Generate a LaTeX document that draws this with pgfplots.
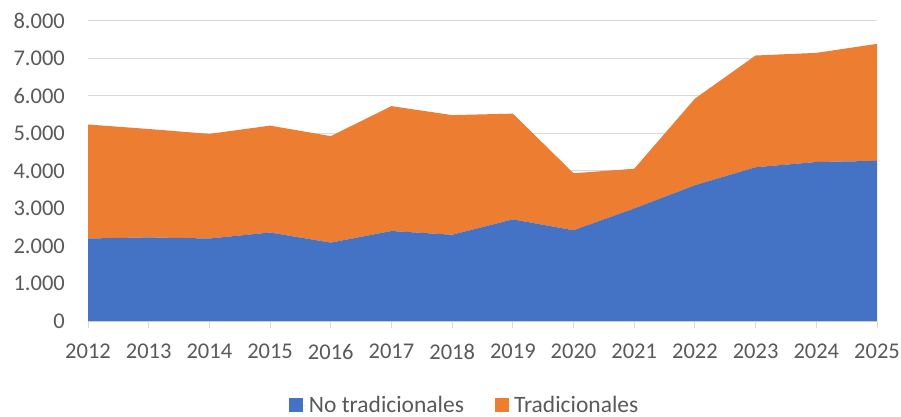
\documentclass[border=0pt]{standalone}
\usepackage{pgfplots}
\pgfplotsset{compat=1.18}
\usepackage{fontspec}
\setmainfont{Carlito}
\definecolor{cblue}{HTML}{4472C4}
\definecolor{corange}{HTML}{ED7D31}
\definecolor{cgrid}{HTML}{D9D9D9}
\definecolor{ctext}{HTML}{595959}
\begin{document}
\begin{tikzpicture}
\begin{axis}[
  scale only axis,
  width=789pt, height=300pt,
  xmin=2012, xmax=2025, ymin=0, ymax=8000,
  enlarge x limits=false,
  stack plots=y,
  xtick={2012,2013,2014,2015,2016,2017,2018,2019,2020,2021,2022,2023,2024,2025},
  ytick={0,1000,2000,3000,4000,5000,6000,7000,8000},
  scaled ticks=false,
  axis x line*=bottom,
  axis y line*=left,
  x axis line style={draw=cgrid, line width=1pt, -},
  y axis line style={draw=none},
  ymajorgrids,
  grid style={draw=cgrid, line width=1pt},
  tick align=outside,
  major tick length=7pt,
  xtick style={draw=cgrid, line width=1pt},
  ytick style={draw=none},
  /pgf/number format/assume math mode=true,
  xticklabel style={font=\fontsize{22.5}{26}\selectfont, text=ctext, inner sep=0pt, anchor=north, yshift=-16pt, /pgf/number format/1000 sep={}},
  yticklabel style={font=\fontsize{22.5}{26}\selectfont, text=ctext, inner sep=0pt, anchor=east, xshift=-16pt, /pgf/number format/1000 sep={.}},
  legend columns=2,
  legend style={at={(0.478,-0.28)}, anchor=center, draw=none, fill=none,
    font=\fontsize{23.5}{27}\selectfont, text=ctext,
    nodes={inner sep=2.5pt},
    /tikz/every even column/.append style={column sep=28pt}},
  legend cell align=left,
  legend image code/.code={\fill[#1] (0pt,-7pt) rectangle (14pt,7pt); \path (0pt,0pt) -- (17pt,0pt);},
]
\addplot[fill=cblue, draw=none] coordinates {
(2012,2200) (2013,2230) (2014,2200) (2015,2360) (2016,2090) (2017,2400) (2018,2300)
(2019,2710) (2020,2420) (2021,3000) (2022,3620) (2023,4100) (2024,4240) (2025,4270)
} \closedcycle;
\addlegendentry{No tradicionales}
\addplot[fill=corange, draw=none] coordinates {
(2012,3040) (2013,2890) (2014,2790) (2015,2850) (2016,2840) (2017,3330) (2018,3190)
(2019,2820) (2020,1520) (2021,1060) (2022,2310) (2023,2980) (2024,2910) (2025,3120)
} \closedcycle;
\addlegendentry{Tradicionales}
\end{axis}
\pgfresetboundingbox
\path[use as bounding box] (-88pt,-96pt) rectangle (813pt,321pt);
\end{tikzpicture}
\end{document}
